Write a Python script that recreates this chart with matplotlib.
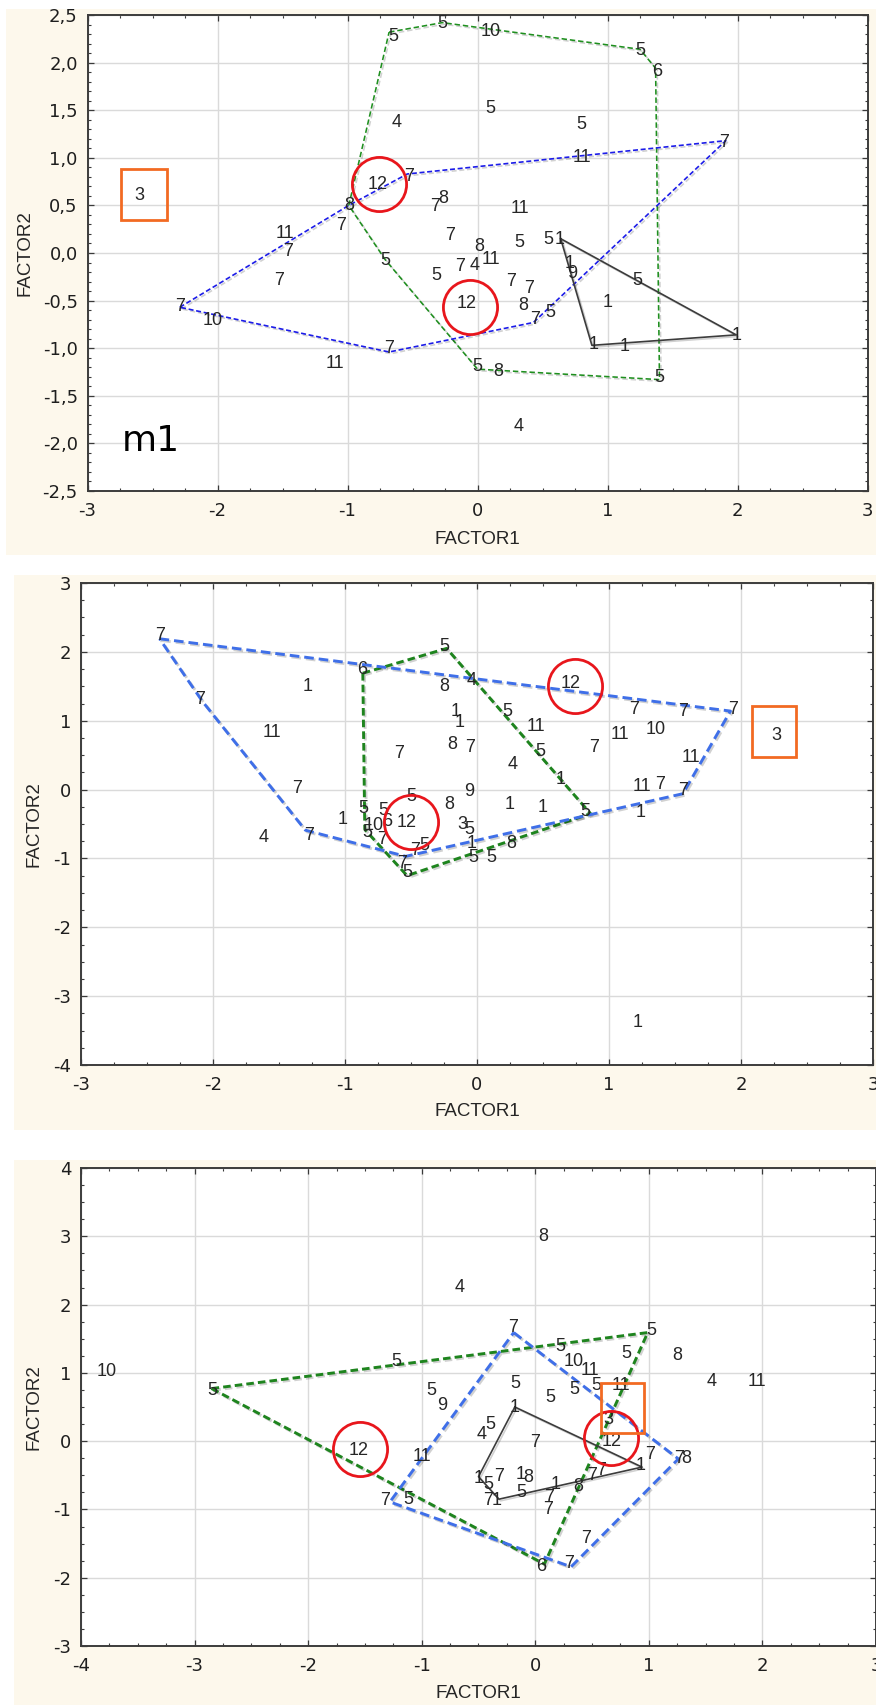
import matplotlib
matplotlib.use('Agg')
import matplotlib.pyplot as plt
from matplotlib.patches import Rectangle
from matplotlib.ticker import MultipleLocator, FuncFormatter
import matplotlib.patheffects as pe

plt.rcParams['font.family'] = ['Liberation Sans', 'DejaVu Sans']
plt.rcParams['axes.unicode_minus'] = False

# ---- panel 1 (m1) ----------------------------------------------------------
p1_x = [-0.65, -0.27, 0.10, 1.25, 1.38, 0.10, -0.62, 0.80, 1.90, 0.80,
        -2.60, -0.77, -0.53, -0.99, -0.33, -0.26, 0.33, -1.05, -1.48, -1.46,
        -0.21, 0.01, 0.32, 0.545, 0.635, -0.71, -0.135, -0.02, 0.10, -0.32,
        -1.53, 0.71, 0.73, 0.26, 0.40, 1.23, -0.08, 0.35, 1.00, 0.56,
        0.44, -2.29, -2.04, 1.99, 0.89, 1.13, -0.68, -1.10, 0.0, 0.16,
        1.40, 0.32]
p1_y = [2.27, 2.41, 2.33, 2.13, 1.91, 1.52, 1.37, 1.35, 1.16, 1.00,
        0.60, 0.72, 0.80, 0.50, 0.49, 0.575, 0.47, 0.29, 0.20, 0.02,
        0.18, 0.07, 0.11, 0.14, 0.14, -0.075, -0.14, -0.13, -0.07, -0.24,
        -0.29, -0.11, -0.22, -0.30, -0.37, -0.29, -0.535, -0.55, -0.52, -0.62,
        -0.70, -0.56, -0.71, -0.87, -0.965, -0.98, -1.00, -1.16, -1.19, -1.25,
        -1.31, -1.82]
p1_lab = ['5', '5', '10', '5', '6', '5', '4', '5', '7', '11',
          '3', '12', '7', '8', '7', '8', '11', '7', '11', '7',
          '7', '8', '5', '5', '1', '5', '7', '4', '11', '5',
          '7', '1', '9', '7', '7', '5', '12', '8', '1', '5',
          '7', '7', '10', '1', '1', '1', '7', '11', '5', '8',
          '5', '4']
p1_green = [(-0.68, 2.32), (-0.27, 2.42), (1.25, 2.14), (1.37, 1.94), (1.40, -1.33),
            (0.0, -1.22), (-0.71, -0.07), (-0.99, 0.50), (-0.68, 2.32)]
p1_blue = [(-2.29, -0.57), (-0.99, 0.50), (-0.54, 0.83), (1.91, 1.18), (0.43, -0.73),
           (-0.68, -1.04), (-2.29, -0.57)]
p1_black = [(0.64, 0.15), (1.99, -0.86), (0.88, -0.97), (0.64, 0.15)]
p1_circles = [(-0.76, 0.73), (-0.056, -0.57)]
p1_box = (-2.74, 0.35, -2.39, 0.88)

# ---- panel 2 ---------------------------------------------------------------
p2_x = [-2.40, -0.25, -0.87, -0.04, -1.28, -0.25, 0.71, -2.10, 0.23, -0.16,
        -0.135, 1.19, 1.56, 1.94, 2.27, -1.55, 0.45, 1.08, 1.35, -0.19,
        -0.05, -0.59, 0.48, 0.89, 0.27, 1.62, 0.63, -1.36, 1.25, 1.39,
        1.56, -0.50, -0.06, -0.21, 0.25, 0.50, 0.82, 1.24, -1.02, -0.86,
        -0.71, -0.78, -0.68, -0.53, -0.83, -0.72, -0.40, -0.47, -0.57, -0.53,
        -0.11, -0.06, -0.04, 0.26, -0.03, 0.11, -1.62, -1.27, 1.215]
p2_y = [2.24, 2.08, 1.75, 1.59, 1.50, 1.49, 1.54, 1.31, 1.14, 1.14,
        0.98, 1.17, 1.13, 1.16, 0.78, 0.83, 0.91, 0.80, 0.87, 0.65,
        0.61, 0.52, 0.55, 0.61, 0.36, 0.47, 0.14, 0.01, 0.04, 0.08,
        -0.01, -0.10, -0.03, -0.21, -0.22, -0.26, -0.32, -0.34, -0.44, -0.28,
        -0.31, -0.52, -0.47, -0.48, -0.62, -0.73, -0.81, -0.89, -1.08, -1.20,
        -0.50, -0.58, -0.78, -0.78, -0.98, -0.98, -0.69, -0.67, -3.38]
p2_lab = ['7', '5', '6', '4', '1', '8', '12', '7', '5', '1',
          '1', '7', '7', '7', '3', '11', '11', '11', '10', '8',
          '7', '7', '5', '7', '4', '11', '1', '7', '11', '7',
          '7', '5', '9', '8', '1', '1', '5', '1', '1', '5',
          '5', '10', '6', '12', '5', '7', '5', '7', '7', '5',
          '3', '5', '1', '8', '5', '5', '4', '7', '1']
p2_green = [(-0.865, 1.69), (-0.23, 2.05), (0.86, -0.35), (-0.53, -1.25),
            (-0.85, -0.58), (-0.865, 1.69)]
p2_blue = [(-2.405, 2.19), (1.92, 1.14), (1.56, -0.06), (-0.54, -0.97),
           (-1.30, -0.59), (-2.08, 1.28), (-2.405, 2.19)]
p2_circles = [(0.74, 1.51), (-0.50, -0.47)]
p2_box = (2.08, 0.48, 2.42, 1.22)

# ---- panel 3 ---------------------------------------------------------------
p3_x = [0.07, -0.67, -0.20, 1.02, 0.22, -1.22, 0.80, 1.25, 0.34, 0.48,
        -3.77, 1.55, 1.95, -2.84, -0.915, -0.82, -0.18, 0.13, 0.34, 0.54,
        0.75, -0.18, 0.64, 0.67, -0.40, -0.47, 0.0, -1.555, -1.0, 1.01,
        1.33, 1.27, 0.93, 0.575, 0.50, -0.50, -0.41, -0.32, -0.13, -0.06,
        -0.12, 0.18, 0.38, -0.42, -0.34, 0.12, 0.11, -1.32, -1.12, 0.45,
        0.295, 0.05]
p3_y = [3.0, 2.25, 1.67, 1.62, 1.39, 1.17, 1.29, 1.26, 1.16, 1.04,
        1.02, 0.88, 0.875, 0.74, 0.74, 0.52, 0.85, 0.635, 0.75, 0.82,
        0.82, 0.50, 0.31, 0.0, 0.25, 0.10, -0.02, -0.13, -0.22, -0.19,
        -0.25, -0.26, -0.36, -0.43, -0.50, -0.54, -0.64, -0.52, -0.49, -0.53,
        -0.75, -0.64, -0.67, -0.865, -0.865, -0.83, -1.0, -0.865, -0.855, -1.42,
        -1.79, -1.84]
p3_lab = ['8', '4', '7', '5', '5', '5', '5', '8', '10', '11',
          '10', '4', '11', '5', '5', '9', '5', '5', '5', '5',
          '11', '1', '3', '12', '5', '4', '7', '12', '11', '7',
          '8', '7', '1', '7', '7', '1', '5', '7', '1', '8',
          '5', '1', '8', '7', '1', '7', '7', '7', '5', '7',
          '7', '6']
p3_green = [(-2.85, 0.77), (0.99, 1.59), (0.08, -1.80), (-2.85, 0.77)]
p3_blue = [(-0.19, 1.59), (1.26, -0.26), (0.315, -1.84), (-1.28, -0.89), (-0.19, 1.59)]
p3_black = [(-0.18, 0.50), (0.94, -0.38), (-0.32, -0.85), (-0.50, -0.52), (-0.18, 0.50)]
p3_circles = [(-1.54, -0.12), (0.67, 0.04)]
p3_box = (0.58, 0.115, 0.96, 0.85)

W, H = 876, 1705
CREAM = '#fdf8ec'
TXT = '#262626'
LABEL_FONT = ['Liberation Sans Narrow', 'Liberation Sans', 'DejaVu Sans']

fig = plt.figure(figsize=(W / 100, H / 100), dpi=100)
fig.patch.set_facecolor('white')


def px_box(x0, y0, x1, y1):
    # pixel box (top-left origin) -> figure fraction [l, b, w, h]
    return [x0 / W, 1 - y1 / H, (x1 - x0) / W, (y1 - y0) / H]


def shadow():
    return [pe.SimpleLineShadow(offset=(1.2, -1.2), alpha=0.18), pe.Normal()]


def make_panel(axbox, cream, xlim, ylim, yminor, f1_y, f2_x, comma=False):
    l, b, w, h = px_box(*cream)
    fig.add_artist(Rectangle((l, b), w, h, transform=fig.transFigure,
                             facecolor=CREAM, edgecolor='none', zorder=-5))
    ax = fig.add_axes(px_box(*axbox))
    ax.set_facecolor('white')
    ax.set_xlim(*xlim)
    ax.set_ylim(*ylim)
    ax.xaxis.set_major_locator(MultipleLocator(1))
    ax.xaxis.set_minor_locator(MultipleLocator(0.25))
    if comma:
        ax.yaxis.set_major_locator(MultipleLocator(0.5))
        ax.yaxis.set_major_formatter(FuncFormatter(lambda v, p: f'{v:.1f}'.replace('.', ',')))
    else:
        ax.yaxis.set_major_locator(MultipleLocator(1))
        ax.yaxis.set_major_formatter(FuncFormatter(lambda v, p: f'{v:.0f}'))
    ax.xaxis.set_major_formatter(FuncFormatter(lambda v, p: f'{v:.0f}'))
    ax.yaxis.set_minor_locator(MultipleLocator(yminor))
    ax.grid(True, which='major', color='#dadada', lw=1.0, zorder=0)
    ax.set_axisbelow(True)
    ax.tick_params(which='both', direction='in', top=True, right=True,
                   color='#3a3a3a', labelsize=13, labelcolor='#1e1e1e',
                   labelfontfamily='DejaVu Sans')
    ax.tick_params(which='major', length=4, width=0.9)
    ax.tick_params(which='minor', length=2.5, width=0.8)
    ax.tick_params(axis='y', pad=7)
    ax.tick_params(axis='x', pad=8)
    for s in ax.spines.values():
        s.set_color('#3c3c3c')
        s.set_linewidth(1.4)
    fig.text(((axbox[0] + axbox[2]) / 2) / W, 1 - f1_y / H, 'FACTOR1',
             ha='center', va='center', fontsize=13.5, color=TXT)
    fig.text(f2_x / W, 1 - ((axbox[1] + axbox[3]) / 2) / H, 'FACTOR2',
             ha='center', va='center', rotation=90, fontsize=13.5, color=TXT)
    return ax


def hull(ax, pts, color, lw, dashes=None):
    xs = [p[0] for p in pts]
    ys = [p[1] for p in pts]
    if dashes is None:
        ax.plot(xs, ys, color=color, lw=lw, zorder=3, path_effects=shadow())
    else:
        ax.plot(xs, ys, color=color, lw=lw, ls='--', dashes=dashes, zorder=3,
                path_effects=shadow())


def labels(ax, xs, ys, labs):
    for x, y, s in zip(xs, ys, labs):
        ax.text(x, y, s, ha='center', va='center', fontsize=13, family=LABEL_FONT,
                color=TXT, zorder=4)


def marks(ax, circles, box):
    for cx, cy in circles:
        ax.plot(cx, cy, marker='o', ms=39, mfc='none', mec='#e8161c', mew=2.0, zorder=5)
    x0, y0, x1, y1 = box
    ax.add_patch(Rectangle((x0, y0), x1 - x0, y1 - y0, fill=False,
                           edgecolor='#f26a22', lw=2.0, zorder=5))


# panel 1
ax1 = make_panel((87.5, 15, 867.5, 491), (6, 9, 876, 555), (-3, 3), (-2.5, 2.5),
                 0.1, 539, 25, comma=True)
hull(ax1, p1_green, '#1f8f1f', 1.15, (3.4, 1.8))
hull(ax1, p1_blue, '#1c1ce8', 1.2, (3.0, 1.6))
hull(ax1, p1_black, '#3c3c3c', 1.2)
labels(ax1, p1_x, p1_y, p1_lab)
marks(ax1, p1_circles, p1_box)
ax1.text(-2.51, -1.97, 'm1', ha='center', va='center', fontsize=26,
         family='DejaVu Sans', color='black')

# panel 2
ax2 = make_panel((81, 583, 873, 1065), (14, 575, 876, 1130), (-3, 3), (-4, 3),
                 0.25, 1112, 34)
hull(ax2, p2_green, '#1e841e', 2.1, (2.6, 1.4))
hull(ax2, p2_blue, '#3f6fe8', 2.1, (3.3, 1.7))
labels(ax2, p2_x, p2_y, p2_lab)
marks(ax2, p2_circles, p2_box)

# panel 3
ax3 = make_panel((81, 1168, 876, 1646), (14, 1160, 876, 1705), (-4, 3), (-3, 4),
                 0.25, 1693, 34)
hull(ax3, p3_green, '#1e841e', 2.1, (2.6, 1.4))
hull(ax3, p3_blue, '#3f6fe8', 2.1, (3.3, 1.7))
hull(ax3, p3_black, '#3c3c3c', 1.2)
labels(ax3, p3_x, p3_y, p3_lab)
marks(ax3, p3_circles, p3_box)

fig.savefig('out.png', dpi=100, facecolor='white')
